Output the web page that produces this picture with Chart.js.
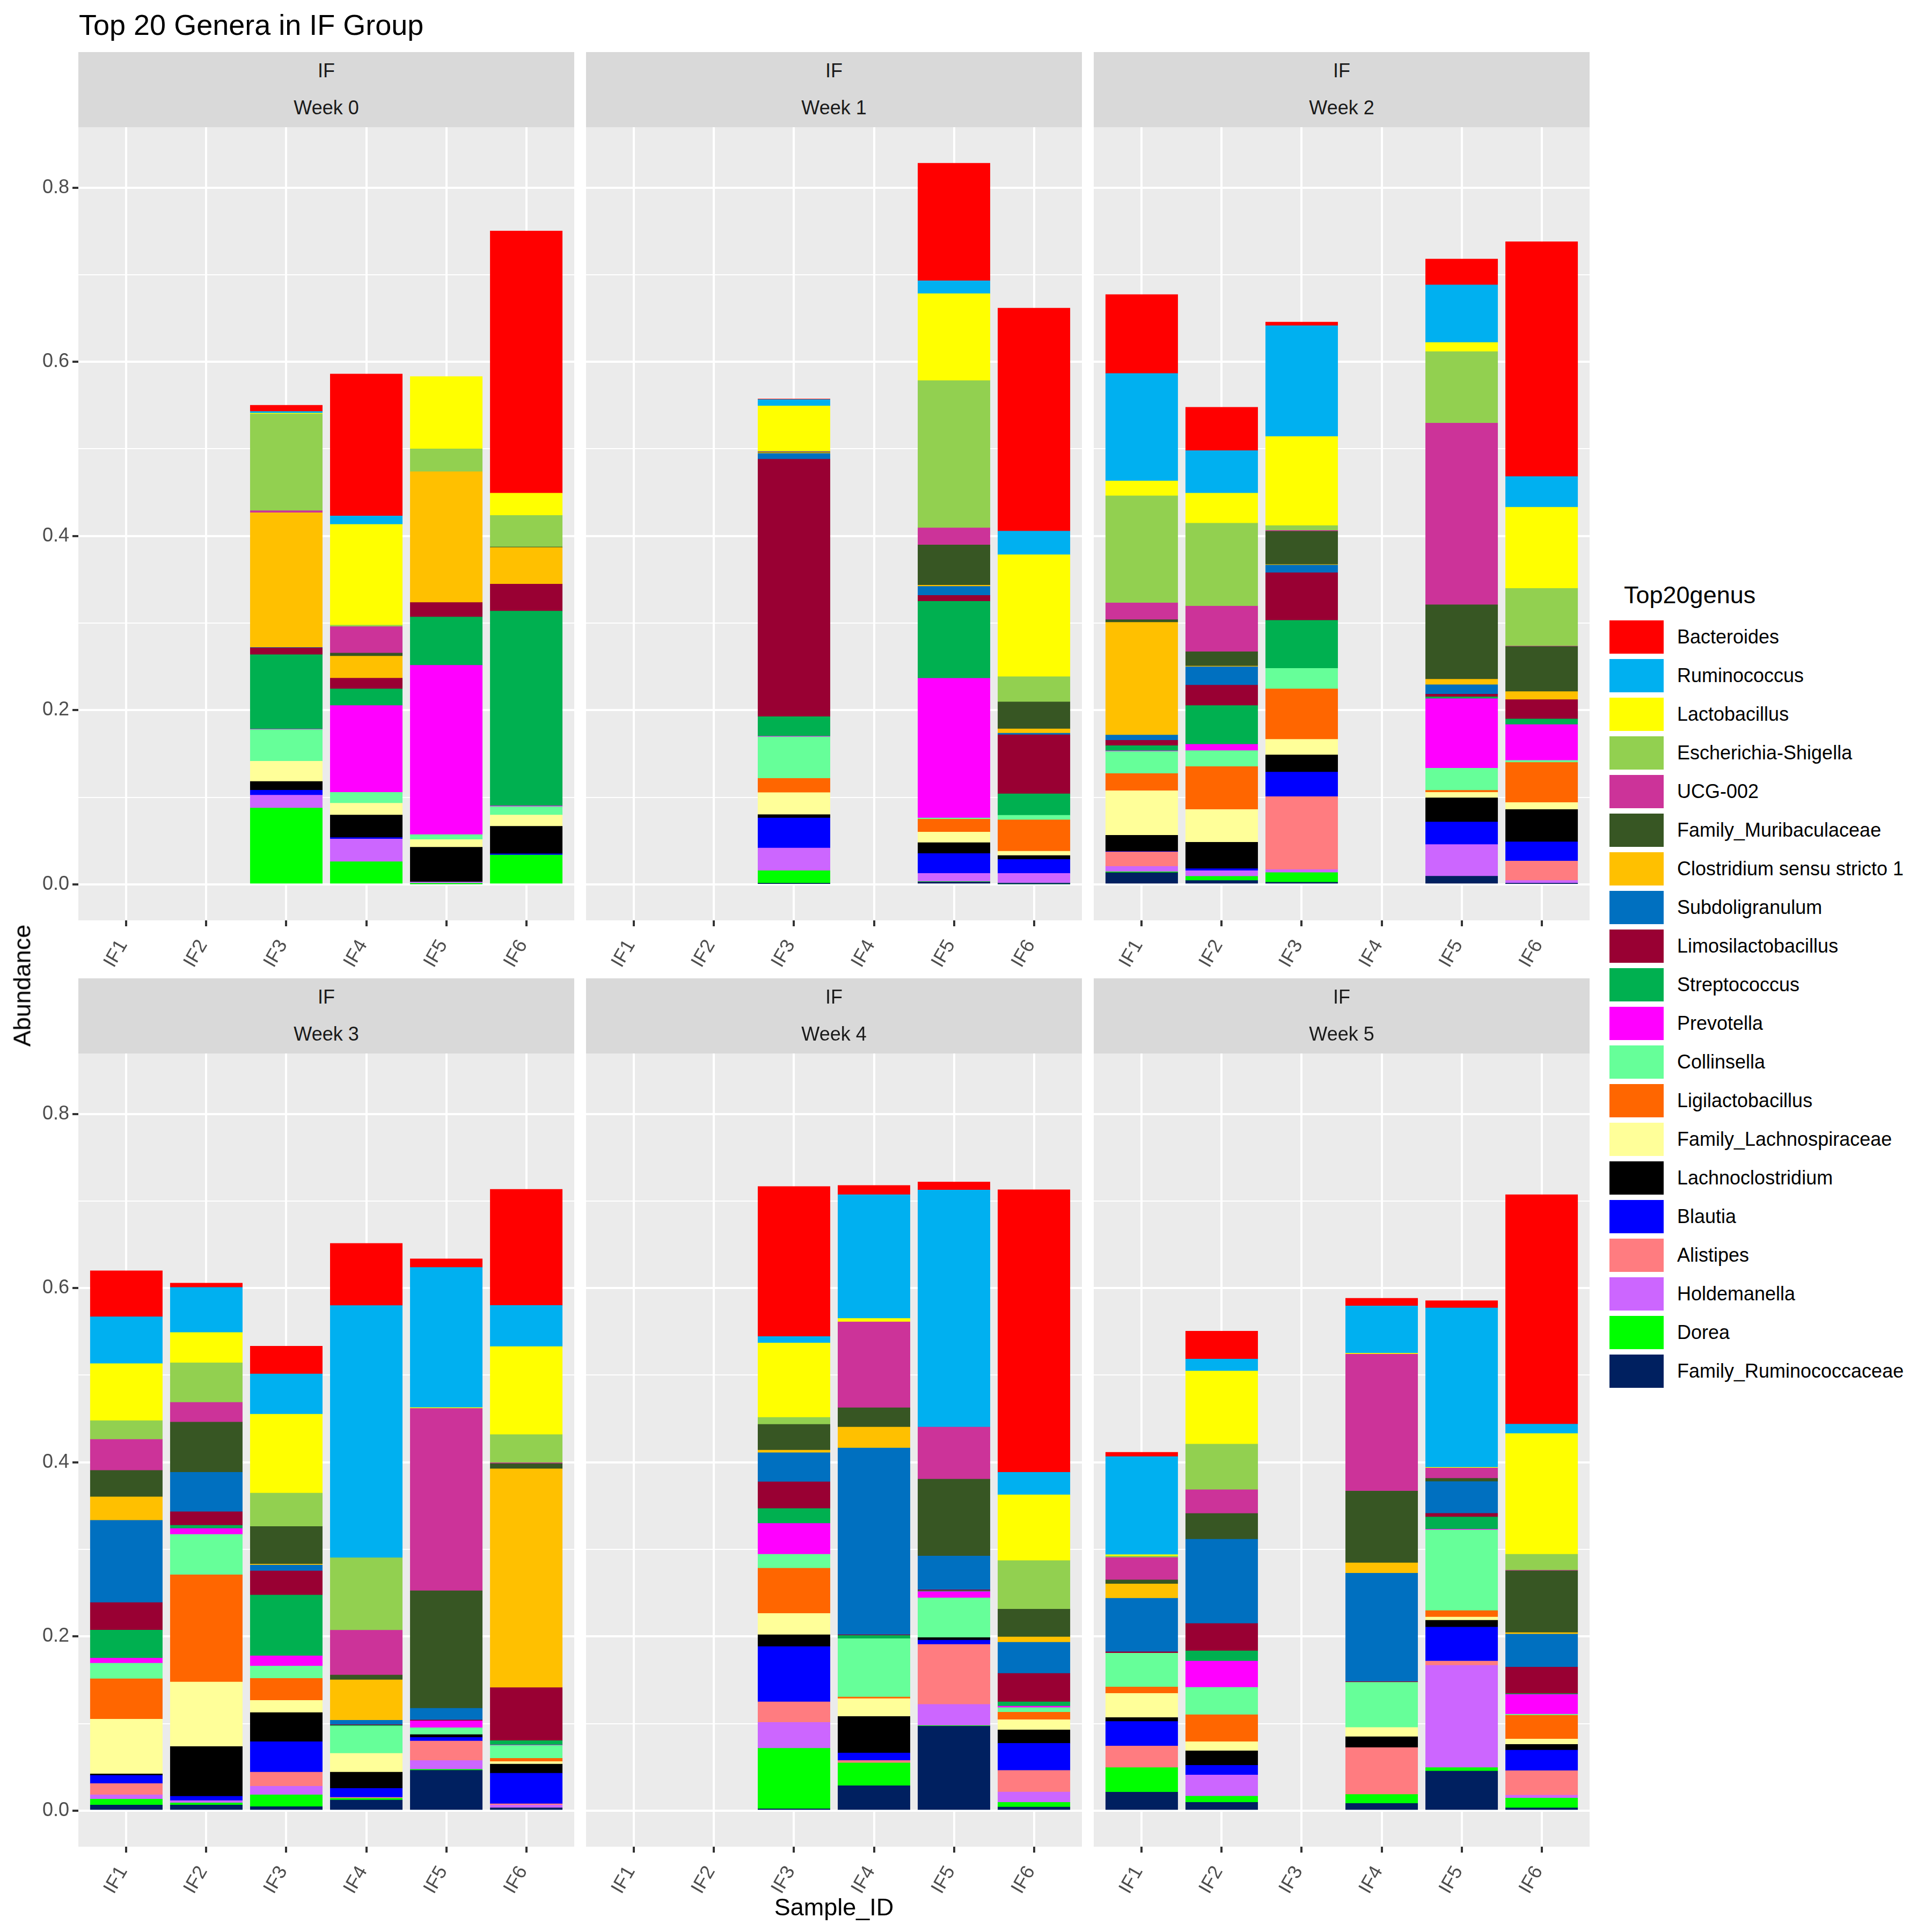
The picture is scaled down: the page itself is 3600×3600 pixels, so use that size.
<!DOCTYPE html>
<html>
<head>
<meta charset="utf-8">
<script src="https://cdn.jsdelivr.net/npm/chart.js@4.4.1/dist/chart.umd.min.js"></script>
<style>
html,body{margin:0;padding:0;background:#ffffff;}
body{width:3600px;height:3600px;position:relative;overflow:hidden;font-family:"Liberation Sans",Arial,Helvetica,sans-serif;}
.box{position:absolute;}
.strip{position:absolute;background:#D9D9D9;color:#1A1A1A;font-size:36px;}
.strip span{position:absolute;left:0;right:0;text-align:center;line-height:36px;height:36px;white-space:nowrap;}
.lgtext{position:absolute;font-size:36px;line-height:36px;color:#000;white-space:nowrap;}
.key{position:absolute;}
</style>
</head>
<body>
<script>
// ---------------- data ----------------
const samples = ['IF1','IF2','IF3','IF4','IF5','IF6'];
const weeks = ['Week 0','Week 1','Week 2','Week 3','Week 4','Week 5'];
const facetGroup = 'IF';
const yTickValues = [0,0.1,0.2,0.3,0.4,0.5,0.6,0.7,0.8];

// each array: [week][sample IF1..IF6]
const bacteroides = [
  [0,0,0.007,0.163,0,0.301],
  [0,0,0.0007,0,0.135,0.256],
  [0.0906,0.0499,0.0042,0,0.0297,0.2696],
  [0.0529,0.0049,0.0319,0.0714,0.0099,0.1334],
  [0,0,0.1723,0.0106,0.0092,0.3244],
  [0.005,0.0321,0,0.0087,0.0082,0.2634]];
const ruminococcus = [
  [0,0,0.002,0.0097,0,0],
  [0,0,0.0074,0,0.0148,0.0271],
  [0.1233,0.0488,0.1272,0,0.066,0.0353],
  [0.0538,0.0517,0.0462,0.2896,0.1609,0.0472],
  [0,0,0.0074,0.1421,0.2723,0.0258],
  [0.1126,0.0136,0,0.0543,0.1831,0.0109]];
const lactobacillus = [
  [0,0,0.001,0.1157,0.083,0.0256],
  [0,0,0.052,0,0.0998,0.14],
  [0.0172,0.0345,0.1024,0,0.0105,0.0932],
  [0.0655,0.0348,0.0905,0,0.001,0.1011],
  [0,0,0.0855,0.004,0,0.0755],
  [0.0015,0.084,0,0.001,0.0008,0.1386]];
const escherichiaShigella = [
  [0,0,0.111,0.0018,0.0263,0.0363],
  [0,0,0.0005,0,0.1692,0.029],
  [0.1229,0.0952,0.0055,0,0.0821,0.0662],
  [0.0215,0.0455,0.0384,0.0832,0,0.0324],
  [0,0,0.0079,0,0,0.0558],
  [0.0017,0.0524,0,0,0,0.0183]];
const ucg002 = [
  [0,0,0.0024,0.0303,0,0],
  [0,0,0.0005,0,0.0196,0],
  [0.0192,0.0523,0.001,0,0.2086,0.0005],
  [0.0356,0.0227,0,0.0515,0.2093,0.0008],
  [0,0,0,0.0986,0.0598,0],
  [0.0258,0.0273,0,0.1573,0.0118,0.0007]];
const familyMuribaculaceae = [
  [0,0,0,0.0036,0,0.0005],
  [0,0,0.0005,0,0.0462,0.031],
  [0.0031,0.0166,0.0382,0,0.0856,0.0518],
  [0.0304,0.0576,0.0431,0.0055,0.135,0.0061],
  [0,0,0.0296,0.0222,0.0882,0.0319],
  [0.0045,0.0295,0,0.0825,0.0037,0.0709]];
const clostridiumSS1 = [
  [0,0,0.1546,0.0252,0.1501,0.0422],
  [0,0,0.001,0,0.0013,0.0049],
  [0.1294,0.0008,0.0005,0,0.0062,0.0091],
  [0.027,0,0.0012,0.0463,0,0.2512],
  [0,0,0.003,0.024,0,0.0062],
  [0.0166,0,0,0.0119,0,0.0018]];
const subdoligranulum = [
  [0,0,0.0005,0,0,0],
  [0,0,0.0066,0,0.0104,0.0018],
  [0.006,0.021,0.0088,0,0.0109,0],
  [0.0944,0.0453,0.0067,0.0052,0.0134,0],
  [0,0,0.0334,0.2144,0.0389,0.0357],
  [0.0614,0.0968,0,0.1244,0.0365,0.0379]];
const limosilactobacillus = [
  [0,0,0.0078,0.0124,0.0166,0.0309],
  [0,0,0.2956,0,0.0068,0.0678],
  [0.0062,0.0234,0.0547,0,0.0031,0.0223],
  [0.0315,0.0156,0.0277,0.0007,0.001,0.0609],
  [0,0,0.0307,0.0008,0.001,0.0327],
  [0.0015,0.0315,0,0.0007,0.0042,0.0304]];
const streptococcus = [
  [0,0,0.0856,0.019,0.0555,0.2237],
  [0,0,0.0226,0,0.0883,0.0247],
  [0.006,0.0446,0.0552,0,0.0021,0.0065],
  [0.0322,0.0037,0.0699,0.0008,0,0.005],
  [0,0,0.0171,0.0037,0.001,0.0049],
  [0,0.0116,0,0,0.014,0.001]];
const prevotella = [
  [0,0,0.0005,0.0998,0.1945,0.0008],
  [0,0,0.0005,0,0.1605,0],
  [0.0007,0.0072,0,0,0.0798,0.041],
  [0.0059,0.0067,0.0116,0,0.0079,0.0005],
  [0,0,0.0354,0,0.0072,0.0017],
  [0,0.0303,0,0,0.0008,0.0226]];
const collinsella = [
  [0,0,0.0363,0.0124,0.0057,0.0096],
  [0,0,0.0478,0,0.0013,0.0052],
  [0.0254,0.0184,0.0236,0,0.0254,0.0023],
  [0.0178,0.0463,0.0142,0.0315,0.0079,0.0149],
  [0,0,0.0161,0.0671,0.0456,0.0052],
  [0.0389,0.0314,0,0.052,0.0927,0.0012]];
const ligilactobacillus = [
  [0,0,0,0,0,0],
  [0,0,0.0164,0,0.0148,0.0361],
  [0.0197,0.0493,0.0578,0,0.0024,0.0461],
  [0.0464,0.1232,0.0252,0,0,0.0037],
  [0,0,0.0518,0.0017,0,0.0087],
  [0.0074,0.031,0,0,0.0074,0.0273]];
const familyLachnospiraceae = [
  [0,0,0.0233,0.0135,0.0088,0.013],
  [0,0,0.0252,0,0.0122,0.0049],
  [0.0511,0.0376,0.0179,0,0.0062,0.0081],
  [0.0629,0.074,0.0141,0.0215,0,0.0029],
  [0,0,0.0245,0.0206,0,0.0117],
  [0.0277,0.0104,0,0.0107,0.0037,0.0062]];
const lachnoclostridium = [
  [0,0,0.0099,0.0259,0.0399,0.0316],
  [0,0,0.0039,0,0.0125,0.0044],
  [0.0187,0.0303,0.0197,0,0.0277,0.0371],
  [0.0017,0.0573,0.0335,0.0186,0.0032,0.0104],
  [0,0,0.0136,0.0419,0.0029,0.0153],
  [0.0045,0.0166,0,0.0124,0.0079,0.0066]];
const blautia = [
  [0,0,0.0057,0.0018,0,0.0013],
  [0,0,0.0345,0,0.0228,0.0161],
  [0.0005,0.0023,0.0283,0,0.026,0.022],
  [0.0094,0.0049,0.0349,0.0104,0.0042,0.0352],
  [0,0,0.0635,0.0086,0.005,0.0312],
  [0.0282,0.0111,0,0,0.0389,0.0236]];
const alistipes = [
  [0,0,0,0,0,0],
  [0,0,0,0,0,0],
  [0.0166,0,0.0837,0,0,0.0223],
  [0.0129,0,0.0161,0.001,0.0223,0.0013],
  [0,0,0.0235,0.0028,0.0688,0.0248],
  [0.0248,0,0,0.0537,0.005,0.0282]];
const holdemanella = [
  [0,0,0.0148,0.026,0.0021,0],
  [0,0,0.026,0,0.0094,0.0112],
  [0.0062,0.0065,0.0034,0,0.0363,0.0036],
  [0.005,0.0025,0.0099,0,0.0102,0.0032],
  [0,0,0.0297,0,0.0243,0.0119],
  [0,0.0243,0,0,0.1174,0.0032]];
const dorea = [
  [0,0,0.0876,0.0259,0.0005,0.0337],
  [0,0,0.0148,0,0.0005,0.0008],
  [0.0008,0.0047,0.0112,0,0,0],
  [0.0067,0.0025,0.0136,0.002,0.001,0],
  [0,0,0.0696,0.0262,0.0007,0.0054],
  [0.0282,0.0072,0,0.0104,0.004,0.0112]];
const familyRuminococcaceae = [
  [0,0,0,0,0,0],
  [0,0,0.0008,0,0.0026,0.0005],
  [0.0135,0.0044,0.0023,0,0.0093,0.0008],
  [0.0064,0.0064,0.0045,0.0121,0.0463,0.0032],
  [0,0,0.002,0.0285,0.0969,0.004],
  [0.0211,0.0094,0,0.0082,0.0453,0.0032]];

// legend order (top of stack first)
const genusNames = ['Bacteroides','Ruminococcus','Lactobacillus','Escherichia-Shigella','UCG-002',
  'Family_Muribaculaceae','Clostridium sensu stricto 1','Subdoligranulum','Limosilactobacillus',
  'Streptococcus','Prevotella','Collinsella','Ligilactobacillus','Family_Lachnospiraceae',
  'Lachnoclostridium','Blautia','Alistipes','Holdemanella','Dorea','Family_Ruminococcaceae'];
const genusValues = [bacteroides,ruminococcus,lactobacillus,escherichiaShigella,ucg002,
  familyMuribaculaceae,clostridiumSS1,subdoligranulum,limosilactobacillus,streptococcus,
  prevotella,collinsella,ligilactobacillus,familyLachnospiraceae,lachnoclostridium,blautia,
  alistipes,holdemanella,dorea,familyRuminococcaceae];
const genusColors = ['#FF0000','#00B0F0','#FFFF00','#92D050','#CC3399','#375623','#FFC000',
  '#0070C0','#990033','#00B050','#FF00FF','#66FF99','#FF6600','#FFFF99','#000000','#0000FF',
  '#FF7C80','#CC66FF','#00FF00','#002060'];

// ---------------- layout ----------------
const FONT = '"Liberation Sans", Arial, Helvetica, sans-serif';
const PANEL_W = 924, PANEL_H = 1478;
const PANEL_LEFTS = [146, 1092, 2038];
const PANEL_TOPS = [237, 1963];
const STRIP_H = 140;
const Y_AXIS_W = 146, X_AXIS_H = 170;
const Y_MIN = -0.0414, Y_MAX = 0.8694;
const BAR_W = 134;

Chart.defaults.font.family = FONT;

function addText(txt, css) {
  const d = document.createElement('div');
  d.className = 'box';
  d.textContent = txt;
  Object.assign(d.style, css);
  document.body.appendChild(d);
  return d;
}

const panelBg = {
  id: 'panelBg',
  beforeDraw(chart) {
    const a = chart.chartArea, c = chart.ctx;
    c.save(); c.fillStyle = '#EBEBEB';
    c.fillRect(a.left, a.top, a.right - a.left, a.bottom - a.top);
    c.restore();
  }
};

function makeFacet(w) {
  const col = w % 3, row = Math.floor(w / 3);
  const pl = PANEL_LEFTS[col], pt = PANEL_TOPS[row];
  const yW = col === 0 ? Y_AXIS_W : 0;

  // strip
  const s = document.createElement('div');
  s.className = 'strip';
  Object.assign(s.style, {left: pl + 'px', top: (pt - STRIP_H) + 'px', width: PANEL_W + 'px', height: STRIP_H + 'px'});
  const s1 = document.createElement('span'); s1.textContent = facetGroup; s1.style.top = '17px';
  const s2 = document.createElement('span'); s2.textContent = weeks[w]; s2.style.top = '86px';
  s.appendChild(s1); s.appendChild(s2);
  document.body.appendChild(s);

  const wrap = document.createElement('div');
  wrap.className = 'box';
  const cw = yW + PANEL_W, ch = PANEL_H + X_AXIS_H;
  Object.assign(wrap.style, {left: (pl - yW) + 'px', top: pt + 'px', width: cw + 'px', height: ch + 'px'});
  const cv = document.createElement('canvas');
  cv.width = cw; cv.height = ch;
  cv.style.width = cw + 'px'; cv.style.height = ch + 'px';
  wrap.appendChild(cv);
  document.body.appendChild(wrap);

  const datasets = [];
  for (let g = genusNames.length - 1; g >= 0; g--) {
    datasets.push({
      label: genusNames[g],
      data: genusValues[g][w].map((v, i) => ({x: i + 1, y: v > 0 ? v : null})),
      backgroundColor: genusColors[g],
      borderWidth: 0,
      barThickness: BAR_W,
      inflateAmount: 0.5
    });
  }

  new Chart(cv, {
    type: 'bar',
    data: {datasets},
    options: {
      responsive: false, maintainAspectRatio: false, animation: false, events: [],
      devicePixelRatio: 1,
      layout: {padding: 0},
      plugins: {legend: {display: false}, tooltip: {enabled: false}, title: {display: false}},
      scales: {
        x: {
          type: 'linear', position: 'bottom', min: 0.4, max: 6.6, offset: false, stacked: true,
          afterBuildTicks: sc => { sc.ticks = samples.map((_, i) => ({value: i + 1})); },
          afterFit: sc => { sc.height = X_AXIS_H; sc.paddingLeft = 0; sc.paddingRight = 0; },
          grid: {color: '#FFFFFF', lineWidth: 4, offset: false, drawTicks: true, tickLength: 11,
                 tickColor: '#333333', tickWidth: 4},
          border: {display: false},
          ticks: {autoSkip: false, minRotation: 60, maxRotation: 60, padding: 18, labelOffset: -6,
                  color: '#4D4D4D', font: {size: 36, family: FONT},
                  callback: v => samples[Math.round(v) - 1] || ''}
        },
        y: {
          type: 'linear', position: 'left', min: Y_MIN, max: Y_MAX, stacked: true,
          afterBuildTicks: sc => { sc.ticks = yTickValues.map(v => ({value: v})); },
          afterFit: sc => { sc.width = yW; sc.paddingTop = 0; sc.paddingBottom = 0; },
          grid: {color: '#FFFFFF', lineWidth: c => (c.index % 2 === 0 ? 4 : 2),
                 drawTicks: col === 0, tickLength: 11,
                 tickColor: c => (c.index % 2 === 0 ? '#333333' : 'rgba(0,0,0,0)'), tickWidth: 4},
          border: {display: false},
          ticks: {display: col === 0, padding: 6, color: '#4D4D4D', font: {size: 36, family: FONT},
                  callback: (v, i) => (i % 2 === 0 ? Number(v).toFixed(1) : '')}
        }
      }
    },
    plugins: [panelBg]
  });
}

for (let w = 0; w < 6; w++) makeFacet(w);

// titles
addText('Top 20 Genera in IF Group', {left: '147px', top: '19px', fontSize: '54px', lineHeight: '54px', color: '#000', whiteSpace: 'nowrap'});
addText('Sample_ID', {left: '1354px', width: '400px', textAlign: 'center', top: '3531px', fontSize: '45px', lineHeight: '45px', color: '#000'});
addText('Abundance', {left: '-159px', width: '400px', textAlign: 'center', top: '1814px', fontSize: '45px', lineHeight: '45px', color: '#000', transform: 'rotate(-90deg)', transformOrigin: '200px 22.5px'});

// legend
addText('Top20genus', {left: '3026px', top: '1086px', fontSize: '45px', lineHeight: '45px', color: '#000', whiteSpace: 'nowrap'});
genusNames.forEach((name, i) => {
  const cy = 1187 + 72 * i;
  const k = document.createElement('div');
  k.className = 'key';
  Object.assign(k.style, {left: '2999px', top: (cy - 31) + 'px', width: '101px', height: '62px', background: genusColors[i]});
  document.body.appendChild(k);
  const t = document.createElement('div');
  t.className = 'lgtext';
  t.textContent = name;
  Object.assign(t.style, {left: '3125px', top: (cy - 18) + 'px'});
  document.body.appendChild(t);
});
</script>
</body>
</html>
